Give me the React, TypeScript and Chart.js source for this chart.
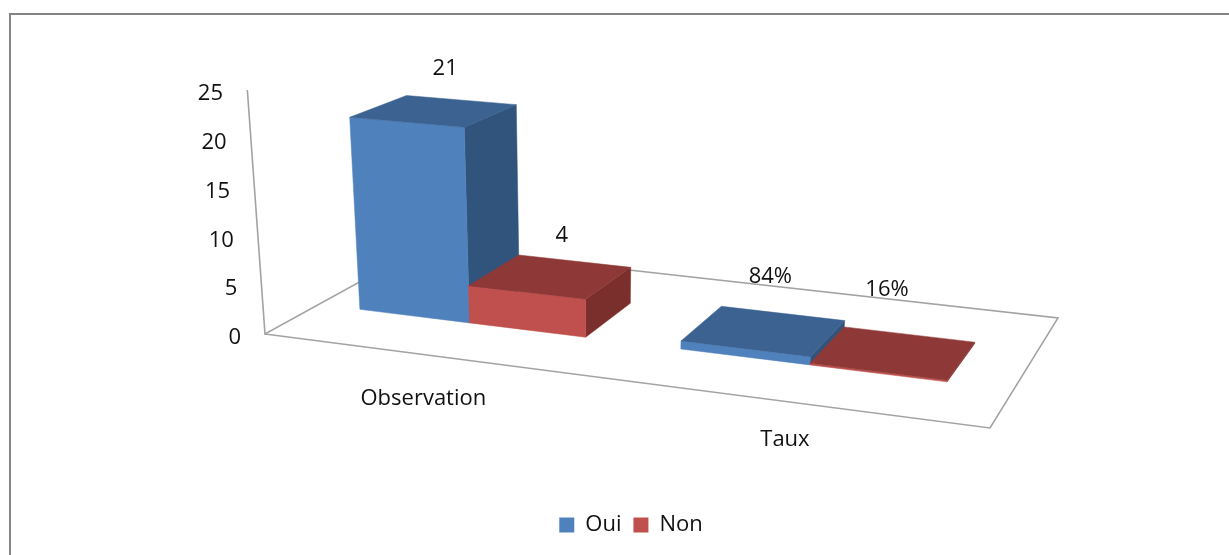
import React, { useEffect, useRef } from "react";
import { Chart, registerables } from "chart.js";

Chart.register(...registerables);

const categories = ["Observation", "Taux"];
const oui = [21, 0.84];
const non = [4, 0.16];
const ouiLabels = ["21", "84%"];
const nonLabels = ["4", "16%"];
const yTicks = [0, 5, 10, 15, 20, 25];

const FONT = "'Open Sans', sans-serif";
const FS = 22;
const STYLE = {
  Oui: { front: "#4F81BD", side: "#31547C", top: "#3B6290" },
  Non: { front: "#C0504D", side: "#7B2F2D", top: "#8E3937" },
};
// projective view of the floor of the 3D plot
const H = { a: 616.1, b: 222.9, c: 265, d: 46.92, e: -49.1, f: 334, g: -0.11, h: 0.1535 };
const WALL = 244;
const BAR_SCALE = 0.975;
const LEAN = 0.055;
const VANISH_X = 586;
const DEPTH = [0.31, 0.665];
const LABEL_OFFSET = [
  [[11, -42], [11, -41]],
  [[6, -54], [-7, -63]],
];
const CATEGORY_DY = [43, 37];

function project(u: number, v: number, t = 0) {
  const w = H.g * u + H.h * v + 1;
  const x = (H.a * u + H.b * v + H.c) / w;
  const y = (H.d * u + H.e * v + H.f) / w;
  return { x: x + t * (x - VANISH_X) * LEAN, y: y - (t * WALL) / w };
}
const warp = (u: number) => u - 0.055 * u * (1.25 - u);

function poly(ctx: CanvasRenderingContext2D, pts: { x: number; y: number }[], fill: string) {
  ctx.beginPath();
  pts.forEach((p, i) => (i ? ctx.lineTo(p.x, p.y) : ctx.moveTo(p.x, p.y)));
  ctx.closePath();
  ctx.fillStyle = fill;
  ctx.fill();
  ctx.strokeStyle = fill;
  ctx.lineWidth = 0.5;
  ctx.stroke();
}

const view3d = {
  id: "view3d",
  beforeDatasetsDraw(chart: any) {
    const { ctx, chartArea: ca, scales } = chart;
    ctx.save();
    // frame
    ctx.strokeStyle = "#858585";
    ctx.lineWidth = 2;
    ctx.beginPath();
    ctx.moveTo(10, 555);
    ctx.lineTo(10, 14);
    ctx.lineTo(1229, 14);
    ctx.stroke();
    // floor and wall
    ctx.strokeStyle = "#A3A3A3";
    ctx.lineWidth = 1.6;
    ctx.beginPath();
    const a = project(0, 1), b = project(0, 0), c = project(1, 0), d = project(1, 1), e = project(0, 0, 1);
    ctx.moveTo(e.x, e.y);
    ctx.lineTo(b.x, b.y);
    ctx.lineTo(a.x, a.y);
    ctx.lineTo(d.x, d.y);
    ctx.lineTo(c.x, c.y);
    ctx.lineTo(b.x, b.y);
    ctx.stroke();

    // y tick labels, leaning with the wall
    ctx.fillStyle = "#111";
    ctx.font = `${FS}px ${FONT}`;
    ctx.textAlign = "right";
    ctx.textBaseline = "middle";
    yTicks.forEach((t) => {
      const py = scales.y.getPixelForValue(t);
      const frac = (ca.bottom - py) / (ca.bottom - ca.top);
      ctx.fillText(String(t), 241 - 18 * frac, py + 1 + 2 * frac);
    });

    // category labels
    ctx.textAlign = "center";
    categories.forEach((name, i) => {
      const u = (scales.x.getPixelForTick(i) - ca.left) / (ca.right - ca.left);
      const p = project(u, 0);
      ctx.fillText(name, p.x - 7.5, p.y + CATEGORY_DY[i]);
    });

    // bars, back to front, left to right
    const labels = [ouiLabels, nonLabels];
    categories.forEach((_, i) => {
      chart.data.datasets.forEach((ds: any, di: number) => {
        const el = chart.getDatasetMeta(di).data[i];
        const { x, y, base, width } = el.getProps(["x", "y", "base", "width"], true);
        const u0 = warp((x - width / 2 - ca.left) / (ca.right - ca.left));
        const u1 = warp((x + width / 2 - ca.left) / (ca.right - ca.left));
        const t = (BAR_SCALE * (base - y)) / (ca.bottom - ca.top);
        const [v0, v1] = DEPTH;
        const st = (STYLE as any)[ds.label];
        const fb0 = project(u0, v0), fb1 = project(u1, v0), bb1 = project(u1, v1);
        const ft0 = project(u0, v0, t), ft1 = project(u1, v0, t), bt0 = project(u0, v1, t), bt1 = project(u1, v1, t);
        poly(ctx, [fb1, bb1, bt1, ft1], st.side);
        poly(ctx, [fb0, fb1, ft1, ft0], st.front);
        poly(ctx, [ft0, ft1, bt1, bt0], st.top);
        const cx = (ft0.x + ft1.x + bt0.x + bt1.x) / 4;
        const cy = (ft0.y + ft1.y + bt0.y + bt1.y) / 4;
        const off = LABEL_OFFSET[i][di];
        ctx.fillStyle = "#111";
        ctx.fillText(labels[di][i], cx + off[0], cy + off[1]);
      });
    });
    ctx.restore();
    return false;
  },
};

export default function App() {
  const ref = useRef<HTMLCanvasElement>(null);
  useEffect(() => {
    const chart = new Chart(ref.current!, {
      type: "bar",
      data: {
        labels: categories,
        datasets: [
          { label: "Oui", data: oui, backgroundColor: STYLE.Oui.front, categoryPercentage: 0.72, barPercentage: 1 },
          { label: "Non", data: non, backgroundColor: STYLE.Non.front, categoryPercentage: 0.72, barPercentage: 1 },
        ],
      },
      options: {
        responsive: false,
        animation: false,
        layout: { padding: { top: 91, left: 33, right: 0, bottom: 9 } },
        plugins: {
          legend: {
            position: "bottom",
            labels: { boxWidth: 15, boxHeight: 15, padding: 12, color: "#111", font: { family: FONT, size: FS } },
          },
          tooltip: { enabled: false },
        },
        scales: {
          x: {
            grid: { display: false },
            border: { display: false },
            ticks: { display: false },
            afterFit: (s: any) => { s.height = 165; },
          },
          y: {
            min: 0,
            max: 25,
            grid: { display: false },
            border: { display: false },
            ticks: { display: false, stepSize: 5 },
          },
        },
      },
      plugins: [view3d],
    } as any);
    return () => chart.destroy();
  }, []);
  return (
    <>
      <style>{`html,body{margin:0;overflow:hidden;background:#fff}`}</style>
      <canvas ref={ref} width={1229} height={555} style={{ display: "block" }} />
    </>
  );
}
